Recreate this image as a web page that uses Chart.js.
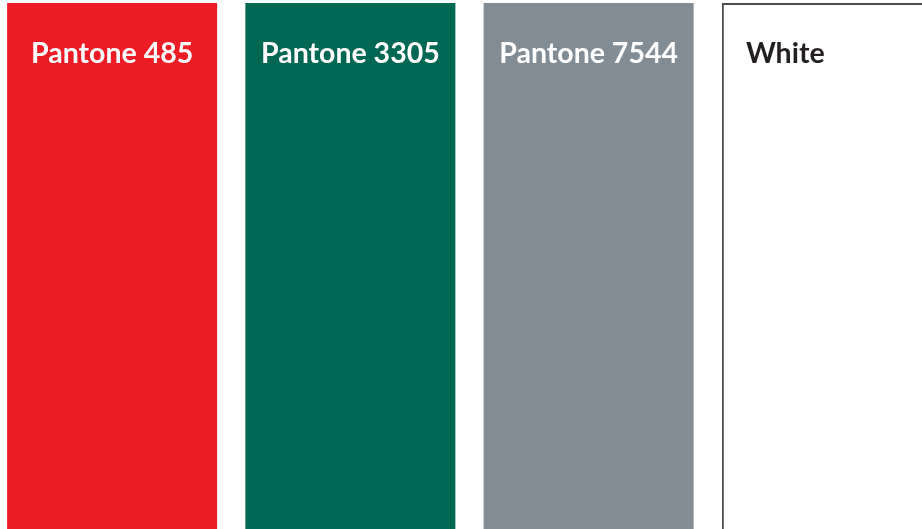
<!DOCTYPE html>
<html>
<head>
<meta charset="utf-8">
<script src="https://cdn.jsdelivr.net/npm/chart.js@4/dist/chart.umd.min.js"></script>
<style>
    html, body { margin: 0; padding: 0; background: #ffffff; overflow: hidden; width: 922px; height: 529px; }
    #wrap { position: absolute; left: -7px; top: 0; width: 953px; height: 600px; }
</style>
</head>
<body>
<div id="wrap"><canvas id="swatchChart" width="953" height="600"></canvas></div>
<script>
// Swatch data
const swatchNames = ['Pantone 485', 'Pantone 3305', 'Pantone 7544', 'White'];
const swatchValues = [99.5, 99.5, 99.5, 99.5];
const swatchColors = ['#ED1C24', '#006752', '#818C95', '#FFFFFF'];
const labelColors = ['#FFFFFF', '#FFFFFF', '#FFFFFF', '#231F20'];

// Draw the swatch names on top of each bar
const swatchLabels = {
    id: 'swatchLabels',
    afterDatasetsDraw(chart) {
        const ctx = chart.ctx;
        const meta = chart.getDatasetMeta(0);
        const offset = chart.canvas.getBoundingClientRect().left;
        ctx.save();
        ctx.font = 'bold 28.5px Lato';
        ctx.textBaseline = 'alphabetic';
        meta.data.forEach((bar, i) => {
            const left = bar.x - bar.width / 2;
            const right = bar.x + bar.width / 2;
            ctx.fillStyle = labelColors[i];
            // bars running off the window get a left-aligned label
            if (right + offset > window.innerWidth) {
                ctx.textAlign = 'left';
                ctx.fillText(swatchNames[i], left + 24, 63);
            } else {
                ctx.textAlign = 'center';
                ctx.fillText(swatchNames[i], bar.x, 63);
            }
        });
        ctx.restore();
    }
};

new Chart(document.getElementById('swatchChart'), {
    type: 'bar',
    data: {
        labels: swatchNames,
        datasets: [{
            data: swatchValues,
            backgroundColor: swatchColors,
            borderColor: ['rgba(0,0,0,0)', 'rgba(0,0,0,0)', 'rgba(0,0,0,0)', '#4D4D4D'],
            borderWidth: [0, 0, 0, 2],
            barPercentage: 210 / 238.25,
            categoryPercentage: 1
        }]
    },
    options: {
        responsive: false,
        animation: false,
        layout: { padding: 0 },
        plugins: {
            legend: { display: false },
            tooltip: { enabled: false }
        },
        scales: {
            x: { display: false },
            y: { display: false, min: 0, max: 100 }
        }
    },
    plugins: [swatchLabels]
});
</script>
</body>
</html>
